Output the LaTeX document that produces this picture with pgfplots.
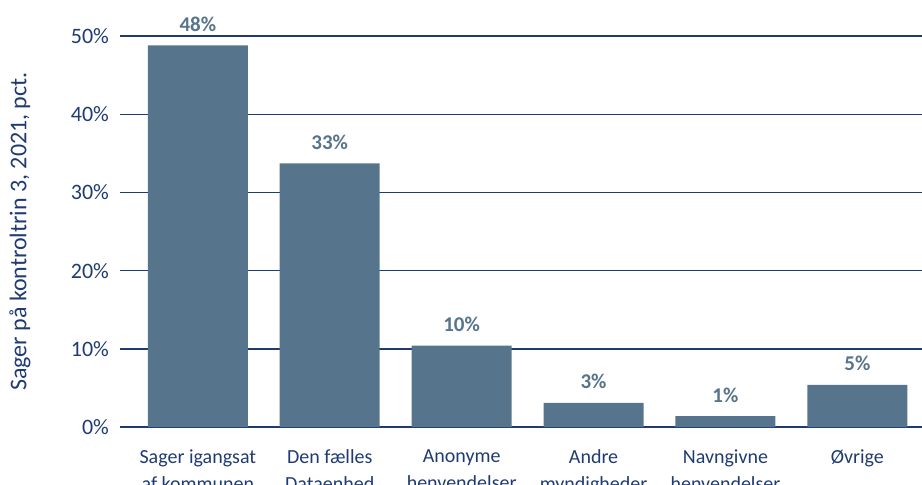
\documentclass[border=0pt]{standalone}
\usepackage{fontspec}
\setmainfont{Carlito}
\usepackage{pgfplots}
\pgfplotsset{compat=1.18}
\usepackage{pgfplotstable}
\definecolor{barblue}{HTML}{56748C}
\definecolor{navy}{HTML}{1F3B72}
\pgfplotstableread{
x y lab
0 48.8 48\%
1 33.7 33\%
2 10.4 10\%
3 3.1 3\%
4 1.4 1\%
5 5.4 5\%
}\shares
\begin{document}
\begin{tikzpicture}[font=\fontsize{10}{13.5}\selectfont]
\begin{axis}[name=ax,at={(0,0)},anchor=south west,scale only axis,width=401pt,height=195.5pt,
  xmin=-0.59,xmax=5.49,ymin=0,ymax=50,clip=false,
  axis line style={draw=none},tick style={draw=none},
  ymajorgrids,grid style={navy,line width=0.7pt},
  ytick={0,10,20,30,40,50},yticklabel={\pgfmathprintnumber{\tick}\%},
  yticklabel style={navy,xshift=-2pt,font=\fontsize{11}{13}\selectfont},
  /pgf/number format/assume math mode=true,
  xtick=data,
  xticklabels={{Sager igangsat\\af kommunen},{Den fælles\\Dataenhed},{Anonyme\\henvendelser},{Andre\\myndigheder},{Navngivne\\henvendelser},{Øvrige}},
  xticklabel style={navy,align=center,anchor=north,yshift=-8pt},
  ylabel={Sager på kontroltrin 3, 2021, pct.},
  every axis y label/.style={at={(axis description cs:-0.1247,0.5)},rotate=90,anchor=center,
    navy,font=\fontsize{12}{14}\selectfont},
  ]
  \addplot[ybar,bar shift=0pt,bar width=50pt,fill=barblue,draw=none,
    point meta=explicit symbolic,nodes near coords,
    every node near coord/.append style={anchor=base,yshift=7pt,text=barblue,font=\fontsize{10.5}{12}\selectfont\bfseries}]
    table[x=x,y=y,meta=lab] {\shares};
\end{axis}
\pgfresetboundingbox
\path (-60pt,-28.5pt) rectangle (401pt,213.5pt);
\end{tikzpicture}
\end{document}
